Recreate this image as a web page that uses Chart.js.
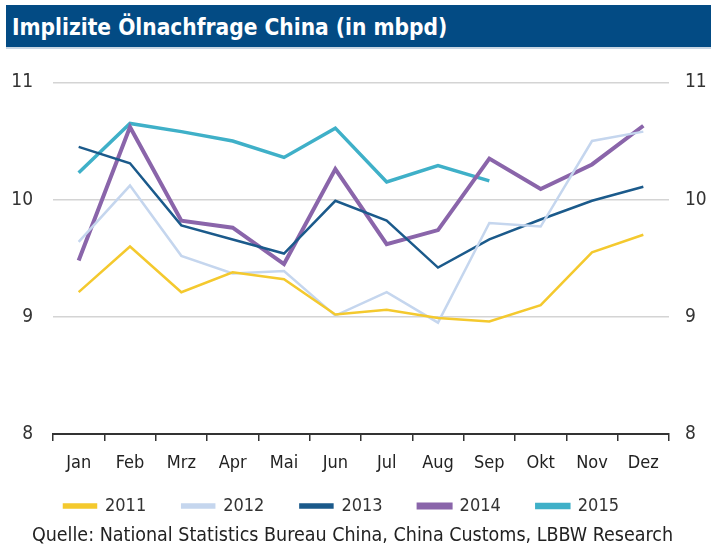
<!DOCTYPE html>
<html>
<head>
    <title>Implizite Ölnachfrage China</title>
    <meta charset="UTF-8">
    <script src="https://cdn.jsdelivr.net/npm/chart.js@4.4.1/dist/chart.umd.min.js"></script>
    <style>
        body { margin: 0; background: #fff; width: 711px; height: 549px; position: relative; overflow: hidden;
               font-family: 'DejaVu Sans Condensed', 'Open Sans', sans-serif; }
        #titleBar { position: absolute; left: 6px; top: 5px; width: 705px; height: 44px; background: #034b84;
                    border-bottom: 2px solid #c9d6e3; color: #fff; font-size: 22.5px; font-weight: bold;
                    line-height: 44px; padding-left: 6px; box-sizing: border-box; }
        #wrap { position: absolute; left: 0; top: 51px; width: 711px; height: 474px; }
        #source { position: absolute; left: -3px; width: 711px; top: 523px; text-align: center; font-size: 19.5px; color: #222; }
    </style>
</head>
<body>
    <div id="titleBar">Implizite Ölnachfrage China (in mbpd)</div>
    <div id="wrap"><canvas id="oilChart"></canvas></div>
    <div id="source">Quelle: National Statistics Bureau China, China Customs, LBBW Research</div>

    <script>
        // Data
        var months = ['Jan', 'Feb', 'Mrz', 'Apr', 'Mai', 'Jun', 'Jul', 'Aug', 'Sep', 'Okt', 'Nov', 'Dez'];
        var yTicks = [8, 9, 10, 11];
        var d2011 = [9.21, 9.60, 9.21, 9.38, 9.32, 9.02, 9.06, 8.99, 8.96, 9.10, 9.55, 9.70];
        var d2012 = [9.64, 10.12, 9.52, 9.37, 9.39, 9.01, 9.21, 8.95, 9.80, 9.77, 10.50, 10.58];
        var d2013 = [10.45, 10.31, 9.78, 9.66, 9.54, 9.99, 9.82, 9.42, 9.66, 9.83, 9.99, 10.11];
        var d2014 = [9.48, 10.62, 9.82, 9.76, 9.45, 10.26, 9.62, 9.74, 10.35, 10.09, 10.30, 10.63];
        var d2015 = [10.23, 10.65, 10.58, 10.50, 10.36, 10.61, 10.15, 10.29, 10.16, null, null, null];

        var font = "'DejaVu Sans Condensed', 'Open Sans', sans-serif";

        function line(label, data, color, width) {
            return {
                label: label,
                data: data,
                borderColor: color,
                backgroundColor: color,
                borderWidth: width,
                pointRadius: 0,
                tension: 0,
                spanGaps: false
            };
        }

        var yTickOpts = {
            color: '#333',
            font: { family: font, size: 19 },
            autoSkip: false,
            stepSize: 1
        };

        // legend in the original sits a bit left of centre
        var shiftLegend = {
            id: 'shiftLegend',
            afterLayout: function (chart) {
                chart.legend.left -= 14;
                chart.legend.right -= 14;
            }
        };

        new Chart(document.getElementById('oilChart').getContext('2d'), {
            type: 'line',
            data: {
                labels: months,
                datasets: [
                    line('2011', d2011, '#f4c92e', 2.5),
                    line('2012', d2012, '#c5d6ee', 2.5),
                    line('2013', d2013, '#1b5a8b', 2.5),
                    line('2014', d2014, '#8a65aa', 4),
                    line('2015', d2015, '#3fb0c8', 3.5)
                ]
            },
            plugins: [shiftLegend],
            options: {
                responsive: true,
                maintainAspectRatio: false,
                animation: false,
                layout: { padding: { top: 21, bottom: 0, left: 0, right: 0 } },
                plugins: {
                    tooltip: { enabled: false },
                    legend: {
                        position: 'bottom',
                        labels: {
                            color: '#333',
                            font: { family: font, size: 18 },
                            boxWidth: 32,
                            boxHeight: 3,
                            padding: 36
                        }
                    }
                },
                scales: {
                    x: {
                        offset: true,
                        grid: { offset: true, drawOnChartArea: false, drawTicks: true, tickLength: 7, color: '#333', lineWidth: 1.5 },
                        border: { display: true, color: '#333', width: 2 },
                        ticks: { color: '#222', font: { family: font, size: 18 }, padding: 12, maxRotation: 0 },
                        afterFit: function (s) {
                            s.height = 27;
                            // labels hang into the legend's top padding, so don't clip them
                            s._computeLabelArea = function () { return undefined; };
                        }
                    },
                    y: {
                        position: 'left',
                        min: yTicks[0],
                        max: yTicks[yTicks.length - 1],
                        grid: {
                            drawTicks: false,
                            lineWidth: 1.5,
                            color: function (c) { return c.tick && c.tick.value === yTicks[0] ? 'rgba(0,0,0,0)' : '#d4d4d4'; }
                        },
                        border: { display: false },
                        ticks: Object.assign({ padding: 20 }, yTickOpts),
                        afterFit: function (s) { s.width = 53; }
                    },
                    y2: {
                        position: 'right',
                        min: yTicks[0],
                        max: yTicks[yTicks.length - 1],
                        grid: { display: false },
                        border: { display: false },
                        ticks: Object.assign({ padding: 8 }, yTickOpts),
                        afterFit: function (s) { s.width = 42; }
                    }
                }
            }
        });
    </script>
</body>
</html>
